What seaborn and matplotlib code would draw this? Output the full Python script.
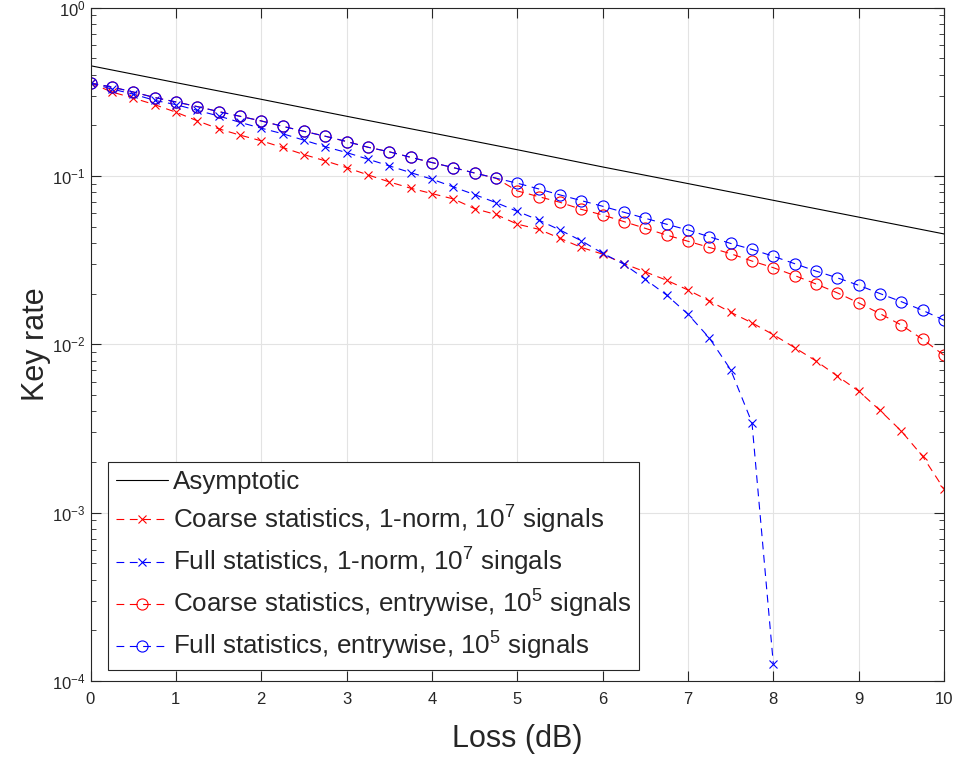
import numpy as np
import pandas as pd
import matplotlib
matplotlib.use("Agg")
import matplotlib.pyplot as plt
import seaborn as sns
from matplotlib.ticker import LogLocator, FixedLocator

# Loss grid (dB), 0.25 dB steps
loss_db = [0, 0.25, 0.5, 0.75, 1, 1.25, 1.5, 1.75, 2, 2.25, 2.5, 2.75,
           3, 3.25, 3.5, 3.75, 4, 4.25, 4.5, 4.75, 5, 5.25, 5.5, 5.75,
           6, 6.25, 6.5, 6.75, 7, 7.25, 7.5, 7.75, 8, 8.25, 8.5, 8.75,
           9, 9.25, 9.5, 9.75, 10]

asym_loss = [0, 1, 2, 3, 4, 5, 6, 7, 8, 9, 10]
asym_rate = [0.451, 0.358, 0.285, 0.226, 0.180, 0.143, 0.113, 0.090,
             0.0716, 0.0569, 0.0452]

coarse_1norm = [0.356, 0.315, 0.290, 0.265, 0.239, 0.2125, 0.1905, 0.1747,
                0.1616, 0.1475, 0.1339, 0.1228, 0.1120, 0.1014, 0.0921,
                0.0845, 0.0785, 0.0730, 0.0639, 0.0590, 0.0517, 0.0482,
                0.0426, 0.0376, 0.0343, 0.0301, 0.0269, 0.0240, 0.0210,
                0.0181, 0.0155, 0.0134, 0.0114, 0.00955, 0.00796, 0.00648,
                0.00527, 0.00405, 0.00305, 0.00216, 0.00138]

full_1norm = [0.356, 0.328, 0.306, 0.281, 0.265, 0.245, 0.227, 0.208,
              0.192, 0.178, 0.163, 0.149, 0.1376, 0.1257, 0.1147, 0.1046,
              0.0956, 0.0860, 0.0774, 0.0694, 0.0616, 0.0547, 0.0477,
              0.0412, 0.0347, 0.0299, 0.0243, 0.0196, 0.0151, 0.0109,
              0.00707, 0.00342, 0.000127]

coarse_entry = [0.356, 0.337, 0.315, 0.292, 0.275, 0.258, 0.241, 0.226,
                0.212, 0.197, 0.184, 0.172, 0.160, 0.148, 0.139, 0.129,
                0.120, 0.112, 0.104, 0.0969, 0.0814, 0.0753, 0.0697,
                0.0633, 0.0586, 0.0535, 0.0488, 0.0445, 0.0409, 0.0376,
                0.0345, 0.0312, 0.0285, 0.0256, 0.0228, 0.0202, 0.0176,
                0.0152, 0.0130, 0.0107, 0.0086]

full_entry = [0.356, 0.337, 0.315, 0.292, 0.275, 0.258, 0.241, 0.226,
              0.212, 0.197, 0.184, 0.172, 0.160, 0.148, 0.139, 0.129,
              0.120, 0.112, 0.104, 0.0969, 0.0905, 0.0837, 0.0771,
              0.0713, 0.0660, 0.0608, 0.0560, 0.0516, 0.0477, 0.0435,
              0.0397, 0.0366, 0.0333, 0.0301, 0.0272, 0.0248, 0.0224,
              0.0200, 0.0179, 0.0159, 0.0139]

labels = [
    "Asymptotic",
    r"Coarse statistics, 1-norm, $10^7$ signals",
    r"Full statistics, 1-norm, $10^7$ singals",
    r"Coarse statistics, entrywise, $10^5$ signals",
    r"Full statistics, entrywise, $10^5$ signals",
]

sns.set_style("ticks")
plt.rcParams["font.family"] = ["Liberation Sans", "DejaVu Sans"]
plt.rcParams["mathtext.default"] = "regular"
axis_grey = "#262626"

fig = plt.figure(figsize=(9.58, 7.59), dpi=100)
ax = fig.add_axes([90.5 / 958, 1 - 681 / 759, (944 - 90.5) / 958, (681 - 7.5) / 759])

dash = (0, (7, 5))
series = [
    (asym_loss, asym_rate, "black", None, "-", labels[0]),
    (loss_db, coarse_1norm, "red", "x", dash, labels[1]),
    (loss_db[:len(full_1norm)], full_1norm, "blue", "x", dash, labels[2]),
    (loss_db, coarse_entry, "red", "o", dash, labels[3]),
    (loss_db, full_entry, "blue", "o", dash, labels[4]),
]

for xs, ys, col, mk, ls, lab in series:
    df = pd.DataFrame({"loss": xs, "rate": ys})
    kw = dict(linewidth=0.8, linestyle=ls)
    if mk is not None:
        kw.update(marker=mk, markeredgecolor=col, markerfacecolor="none",
                  markersize=8 if mk == "o" else 6, markeredgewidth=0.8)
    sns.lineplot(data=df, x="loss", y="rate", color=col, label=lab,
                 ax=ax, **kw)

ax.set_yscale("log")
ax.set_xlim(0, 10)
ax.set_ylim(1e-4, 1)
ax.xaxis.set_major_locator(FixedLocator(range(0, 11)))
ax.yaxis.set_major_locator(LogLocator(base=10, numticks=10))
ax.yaxis.set_minor_locator(LogLocator(base=10, subs=np.arange(2, 10), numticks=20))

ax.grid(True, which="major", color="#e3e3e3", linewidth=0.8)
ax.set_axisbelow(True)
for sp in ax.spines.values():
    sp.set_visible(True)
    sp.set_color(axis_grey)
    sp.set_linewidth(0.8)

ax.tick_params(which="both", direction="in", top=True, right=True,
               colors=axis_grey, labelsize=12)
ax.tick_params(which="major", length=7, width=0.8)
ax.tick_params(which="minor", length=3.5, width=0.6)
ax.tick_params(axis="x", pad=8)

ax.set_xlabel("Loss (dB)", fontsize=22, color=axis_grey, labelpad=12)
ax.set_ylabel("Key rate", fontsize=22, color=axis_grey, labelpad=1)

leg = ax.legend(loc="upper left", bbox_to_anchor=(0.0205, 0.325),
                borderaxespad=0, fontsize=18.7, frameon=True, fancybox=False,
                edgecolor=axis_grey, framealpha=1, handlelength=2.0,
                handletextpad=0.2, labelspacing=0.38, borderpad=0.3)
leg.get_frame().set_linewidth(0.8)

fig.savefig("out.png", dpi=100)
